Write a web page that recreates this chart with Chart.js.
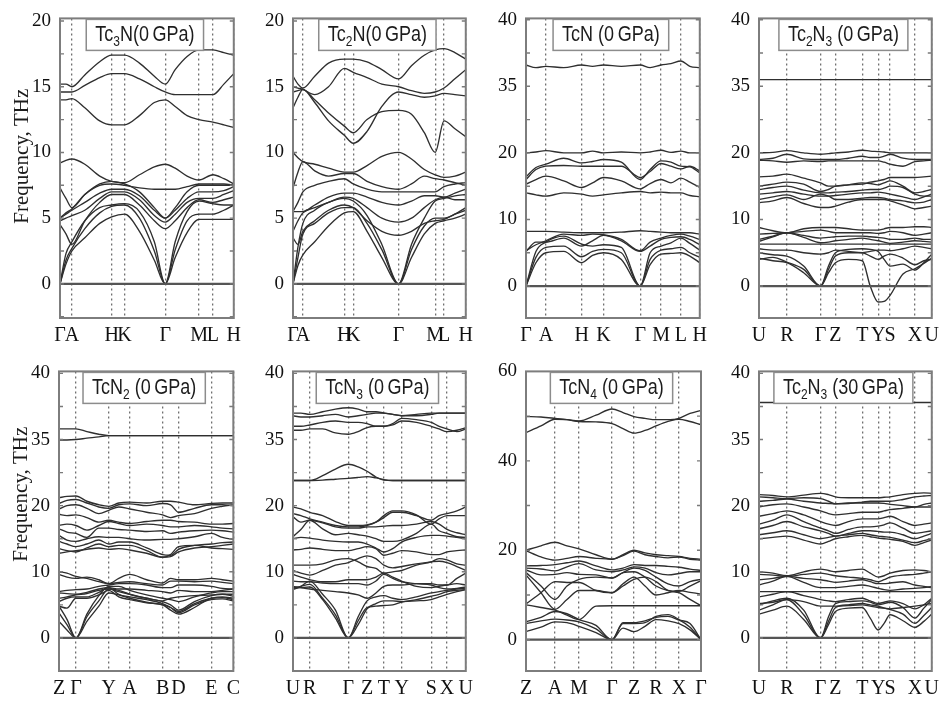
<!DOCTYPE html>
<html>
<head>
<meta charset="utf-8">
<title>Tc-N phonon dispersion</title>
<script src="https://cdn.jsdelivr.net/npm/chart.js@4.4.1/dist/chart.umd.min.js"></script>
<style>
  html, body { margin: 0; padding: 0; background: #fff; }
  #wrap { position: relative; width: 943px; height: 702px; overflow: hidden; }
  #wrap canvas { position: absolute; }
</style>
</head>
<body>
<div id="wrap"></div>
<script>
// ---- tick labels (THz) ----
var freqTicks20 = [0, 5, 10, 15, 20];
var freqTicksBroken = [0, 10, 20, 35, 40];
var freqTicks60 = [0, 20, 40, 60];

// ---- Tc3N (0 GPa) ----
var tc3nLabels = ['Γ', 'A', 'H', 'K', 'Γ', 'M', 'L', 'H'];
var tc3nK = [0, 12, 52, 65, 106, 140, 154, 175];
var tc3nX = [0, 6, 12, 25, 40, 52, 65, 80, 95, 106, 116, 128, 140, 154, 165, 175];
var tc3nBands = [
  [15.2, 15.2, 15.0, 15.9, 16.9, 17.4, 17.4, 16.8, 15.8, 15.2, 16.3, 17.3, 17.8, 17.8, 17.6, 17.4],
  [14.6, 14.6, 14.6, 15.1, 15.7, 16.0, 16.0, 15.6, 15.0, 14.6, 14.4, 14.4, 14.4, 14.4, 15.2, 16.0],
  [14.0, 14.0, 14.1, 13.4, 12.4, 12.1, 12.1, 12.8, 13.8, 14.0, 13.5, 12.8, 12.5, 12.3, 12.1, 11.9],
  [9.2, 9.4, 9.5, 9.1, 8.2, 7.8, 7.7, 8.3, 8.9, 9.1, 8.8, 8.2, 7.9, 8.3, 8.0, 7.6],
  [5.0, 5.4, 5.7, 6.8, 7.5, 7.6, 7.5, 7.3, 7.2, 7.2, 7.2, 7.4, 7.6, 7.6, 7.6, 7.5],
  [7.3, 6.5, 5.8, 6.8, 7.6, 7.8, 7.6, 7.0, 5.8, 5.0, 5.8, 7.0, 7.5, 7.5, 7.5, 7.5],
  [5.0, 5.3, 5.6, 6.2, 6.9, 7.2, 7.2, 6.7, 5.6, 5.0, 5.6, 6.5, 7.0, 7.0, 7.1, 7.4],
  [4.8, 5.0, 5.2, 5.6, 6.5, 7.0, 7.0, 6.4, 5.2, 4.7, 5.3, 6.2, 6.5, 6.5, 6.8, 7.1],
  [4.5, 3.8, 3.0, 4.8, 6.2, 6.8, 6.8, 6.0, 4.8, 4.2, 4.8, 5.8, 6.4, 6.2, 6.4, 6.6],
  [0, 2.3, 3.2, 4.8, 5.8, 6.0, 6.1, 5.5, 3.2, 0, 3.2, 5.5, 6.3, 6.1, 6.0, 6.0],
  [0, 1.8, 2.7, 4.2, 5.4, 5.9, 6.0, 5.0, 2.5, 0, 2.6, 4.8, 5.3, 5.3, 5.6, 6.0],
  [0, 1.5, 2.5, 3.5, 4.6, 5.1, 5.3, 4.0, 1.8, 0, 2.0, 3.9, 4.9, 4.9, 4.9, 4.9]
];

// ---- Tc2N (0 GPa) ----
var tc2nLabels = ['Γ', 'A', 'H', 'K', 'Γ', 'M', 'L', 'H'];
var tc2nK = [0, 10, 52, 61, 107, 144, 153, 175];
var tc2nX = [0, 5, 10, 22, 36, 52, 61, 75, 90, 107, 120, 133, 144, 153, 164, 175];
var tc2nBands = [
  [15.8, 15.2, 14.9, 15.8, 16.8, 17.1, 17.1, 16.9, 16.3, 15.6, 16.6, 17.4, 17.8, 17.9, 17.6, 17.1],
  [15.0, 14.9, 14.8, 14.4, 15.0, 16.4, 16.1, 15.7, 15.2, 15.0, 14.7, 14.5, 14.6, 14.9, 15.6, 16.3],
  [14.6, 14.7, 14.8, 13.8, 12.4, 11.3, 10.7, 11.6, 13.5, 14.6, 14.4, 14.2, 14.3, 14.5, 14.4, 14.3],
  [13.4, 14.2, 14.8, 14.0, 13.0, 12.0, 11.5, 12.5, 13.1, 13.2, 12.9, 11.5, 10.0, 12.4, 11.8, 11.2],
  [10.0, 9.6, 9.3, 9.1, 8.8, 8.5, 8.5, 9.0, 9.7, 10.0, 9.5, 8.7, 8.3, 8.1, 8.2, 8.5],
  [7.3, 8.5, 9.3, 8.6, 8.2, 8.4, 8.4, 7.8, 7.4, 7.2, 7.6, 8.2, 8.0, 7.9, 7.7, 7.5],
  [5.5, 6.2, 7.0, 7.5, 7.8, 8.0, 7.6, 7.2, 7.0, 7.0, 7.0, 7.0, 7.0, 7.4, 7.6, 7.7],
  [5.5, 5.5, 5.5, 6.0, 6.6, 6.9, 6.9, 6.6, 6.2, 6.0, 6.3, 6.7, 6.7, 6.6, 6.9, 7.2],
  [4.0, 4.8, 5.4, 5.8, 6.2, 6.6, 6.5, 5.8, 5.0, 4.7, 5.0, 5.8, 6.4, 6.6, 6.4, 6.4],
  [3.5, 3.0, 4.0, 4.8, 5.6, 6.0, 5.8, 4.8, 4.0, 3.7, 4.0, 4.6, 4.8, 4.9, 5.3, 5.6],
  [0, 1.4, 2.2, 3.2, 4.4, 5.4, 5.5, 4.0, 2.0, 0, 2.0, 3.8, 4.6, 4.8, 5.0, 5.3],
  [0, 2.0, 3.8, 4.6, 5.4, 5.8, 5.8, 4.6, 2.6, 0, 2.6, 4.4, 5.0, 5.0, 5.3, 5.8],
  [0, 2.8, 4.6, 5.6, 6.2, 6.5, 6.3, 5.2, 3.0, 0, 3.0, 5.0, 6.3, 6.5, 6.7, 6.8]
];

// ---- TcN (0 GPa) ----
var tcnLabels = ['Γ', 'A', 'H', 'K', 'Γ', 'M', 'L', 'H'];
var tcnK = [0, 20, 56, 78, 115, 136, 156, 175];
var tcnX = [0, 10, 20, 38, 56, 67, 78, 96, 115, 125, 136, 146, 156, 165, 175];
var tcnBands = [
  [36.6, 36.4, 36.5, 36.4, 36.6, 36.5, 36.6, 36.5, 36.6, 36.4, 36.6, 36.7, 36.9, 36.5, 36.4],
  [20.0, 20.2, 20.5, 20.0, 20.0, 20.4, 20.0, 20.2, 20.0, 20.2, 20.6, 20.1, 20.4, 20.0, 20.0],
  [16.4, 17.8, 18.3, 19.2, 18.5, 18.7, 19.0, 18.6, 16.0, 17.5, 18.8, 18.6, 18.0, 17.9, 17.0],
  [16.0, 17.5, 18.0, 18.1, 18.0, 18.0, 18.0, 18.0, 16.3, 17.2, 18.4, 18.0, 17.6, 18.0, 17.3],
  [15.3, 16.0, 16.5, 15.8, 14.8, 15.5, 16.3, 15.8, 14.6, 15.4, 16.0, 15.5, 16.2, 15.6, 14.8],
  [14.0, 13.7, 13.5, 14.0, 13.8, 13.5, 13.7, 14.0, 14.2, 14.0, 14.1, 14.0, 14.0, 13.6, 13.4],
  [8.2, 8.2, 8.2, 8.1, 8.0, 8.0, 8.0, 8.1, 8.3, 8.2, 8.1, 8.0, 8.0, 8.0, 7.8],
  [5.3, 6.2, 6.8, 7.8, 7.6, 7.8, 7.7, 7.0, 5.3, 6.6, 7.2, 7.6, 7.8, 7.5, 7.0],
  [5.2, 6.6, 6.6, 7.2, 6.0, 6.8, 7.6, 6.8, 5.2, 6.0, 7.0, 7.3, 7.4, 7.0, 6.2],
  [0, 5.2, 6.6, 7.5, 6.3, 6.0, 6.2, 5.8, 0, 5.0, 6.0, 6.5, 7.2, 6.4, 5.4],
  [0, 4.3, 5.8, 6.0, 4.4, 5.2, 5.5, 5.0, 0, 4.0, 5.4, 5.6, 5.8, 5.0, 4.3],
  [0, 3.5, 5.0, 5.2, 3.5, 4.6, 5.0, 4.0, 0, 3.2, 4.8, 4.9, 5.0, 4.5, 3.5]
];

// ---- Tc2N3 (0 GPa) and (30 GPa) share the same path ----
var tc2n3Labels = ['U', 'R', 'Γ', 'Z', 'T', 'Y', 'S', 'X', 'U'];
var tc2n3K = [0, 28, 62, 77, 104, 120, 132, 157, 174];
var tc2n3X = [0, 14, 28, 45, 62, 70, 77, 90, 104, 112, 120, 126, 132, 145, 157, 166, 174];
var tc2n3Bands = [
  [35.5, 35.5, 35.5, 35.5, 35.5, 35.5, 35.5, 35.5, 35.5, 35.5, 35.5, 35.5, 35.5, 35.5, 35.5, 35.5, 35.5],
  [20.0, 20.1, 20.5, 20.0, 19.8, 19.9, 20.0, 20.2, 20.6, 20.4, 20.3, 20.2, 20.0, 20.0, 20.0, 20.0, 20.0],
  [19.0, 19.2, 19.8, 19.1, 19.0, 19.0, 19.0, 19.2, 19.5, 19.3, 19.3, 19.5, 19.8, 19.2, 19.0, 19.0, 19.0],
  [18.9, 18.8, 18.6, 18.8, 18.7, 18.8, 18.8, 18.8, 18.8, 18.8, 18.8, 18.6, 18.3, 18.0, 18.7, 18.8, 18.9],
  [16.4, 16.5, 16.8, 16.2, 15.5, 15.0, 15.0, 15.2, 15.3, 15.6, 15.8, 16.0, 16.3, 16.3, 16.3, 16.4, 16.5],
  [15.0, 15.3, 15.6, 15.3, 14.2, 14.5, 15.0, 15.2, 15.5, 15.4, 15.2, 15.5, 15.8, 15.0, 14.0, 14.2, 14.5],
  [14.5, 14.8, 15.0, 14.4, 14.0, 14.0, 14.1, 14.2, 14.4, 14.5, 14.5, 14.7, 15.0, 14.8, 13.8, 13.5, 13.5],
  [13.8, 14.0, 14.2, 13.8, 13.5, 13.5, 13.6, 13.8, 14.0, 14.0, 14.1, 14.0, 13.8, 13.4, 13.0, 13.4, 13.8],
  [13.0, 13.4, 13.7, 13.0, 13.8, 13.5, 13.0, 13.0, 13.2, 13.3, 13.3, 13.2, 13.0, 12.8, 12.5, 12.6, 13.0],
  [12.5, 12.8, 13.3, 12.4, 11.8, 11.8, 12.0, 12.6, 13.0, 13.0, 13.0, 13.0, 12.8, 12.2, 11.6, 11.8, 12.0],
  [8.8, 8.3, 8.0, 8.6, 8.8, 8.8, 8.8, 8.6, 8.4, 8.4, 8.4, 8.6, 8.8, 8.8, 8.9, 8.9, 8.8],
  [7.8, 7.9, 8.0, 8.2, 8.4, 8.2, 8.0, 8.0, 8.0, 8.0, 7.9, 8.0, 8.2, 8.0, 7.6, 7.8, 8.0],
  [7.0, 7.5, 8.0, 7.6, 7.2, 7.3, 7.4, 7.5, 7.5, 7.4, 7.3, 7.2, 7.0, 7.0, 7.2, 7.0, 7.0],
  [6.7, 7.4, 8.0, 7.3, 6.5, 6.6, 6.8, 7.0, 7.2, 7.0, 6.8, 6.6, 6.4, 6.6, 6.8, 6.7, 6.6],
  [6.3, 6.3, 6.3, 6.3, 6.3, 6.3, 6.3, 6.3, 6.3, 6.3, 6.3, 6.3, 6.3, 6.3, 6.3, 6.3, 6.3],
  [5.6, 5.4, 5.4, 5.0, 4.8, 5.0, 5.4, 5.2, 5.0, 5.2, 5.4, 5.4, 5.3, 5.6, 6.0, 5.8, 5.6],
  [4.0, 4.3, 3.6, 2.5, 0, 2.5, 4.5, 5.0, 5.0, 4.5, 4.0, 4.5, 4.8, 4.2, 3.2, 3.8, 4.0],
  [4.2, 3.8, 3.5, 2.0, 0, 2.0, 3.5, 4.0, 3.8, 0.0, -2.4, -2.3, -1.4, 1.8, 2.6, 3.4, 4.2],
  [5.0, 4.7, 4.5, 3.0, 0, 3.0, 5.0, 5.5, 5.6, 5.5, 5.2, 4.0, 3.0, 3.3, 2.4, 3.5, 4.8]
];
var tc2n3HpBands = [
  [37.8, 37.8, 37.8, 37.8, 37.8, 37.8, 37.8, 37.8, 37.8, 37.8, 37.8, 37.8, 37.8, 37.8, 37.8, 37.8, 37.8],
  [22.5, 22.3, 22.0, 22.4, 22.8, 22.5, 22.0, 21.8, 21.8, 21.8, 21.8, 21.9, 22.0, 22.5, 22.8, 22.9, 22.8],
  [22.0, 21.8, 21.6, 21.8, 21.6, 21.0, 20.4, 20.5, 20.8, 21.0, 21.0, 21.0, 21.0, 21.4, 22.0, 22.2, 22.3],
  [21.0, 21.2, 21.5, 21.0, 20.6, 20.5, 20.4, 20.6, 20.6, 20.6, 20.6, 20.5, 20.3, 20.0, 19.8, 20.3, 20.6],
  [19.8, 20.2, 20.4, 19.8, 19.2, 18.8, 18.6, 18.8, 19.0, 19.0, 19.0, 19.2, 19.4, 19.6, 19.8, 19.8, 19.8],
  [18.4, 18.8, 19.2, 18.6, 17.6, 17.2, 17.0, 17.6, 18.0, 18.0, 18.0, 18.2, 18.4, 17.6, 17.0, 17.2, 17.4],
  [17.2, 17.8, 18.6, 17.6, 16.6, 16.2, 15.8, 16.4, 16.8, 16.8, 16.9, 17.1, 17.4, 16.6, 15.8, 16.0, 16.2],
  [16.5, 17.0, 17.6, 16.8, 16.2, 15.8, 15.4, 15.8, 16.2, 16.2, 16.1, 16.0, 16.0, 15.6, 15.0, 15.4, 15.8],
  [15.6, 15.9, 16.2, 15.6, 15.0, 15.2, 15.4, 15.6, 15.8, 15.6, 15.4, 15.3, 15.2, 14.8, 14.4, 14.7, 15.0],
  [15.0, 15.2, 15.4, 14.8, 14.2, 14.6, 15.0, 15.3, 15.5, 15.3, 15.1, 15.0, 14.9, 14.6, 14.0, 14.4, 14.8],
  [10.0, 9.8, 9.4, 10.0, 10.4, 10.2, 10.0, 10.2, 10.4, 9.8, 9.2, 9.4, 9.8, 10.2, 10.3, 10.2, 10.0],
  [9.6, 9.5, 9.3, 9.6, 9.8, 9.6, 9.4, 9.2, 9.0, 8.8, 8.5, 8.8, 9.2, 9.5, 9.6, 9.8, 10.0],
  [8.8, 9.0, 9.3, 9.0, 8.8, 8.6, 8.4, 8.6, 8.8, 8.5, 8.2, 8.2, 8.3, 8.5, 8.0, 7.8, 7.6],
  [8.0, 8.6, 9.3, 8.4, 7.6, 7.6, 7.6, 7.8, 8.0, 7.8, 7.5, 7.3, 7.2, 7.4, 7.5, 7.6, 7.8],
  [7.0, 7.0, 7.0, 7.0, 7.0, 7.0, 7.0, 7.0, 7.0, 7.0, 7.0, 7.0, 7.0, 7.0, 7.0, 7.0, 7.0],
  [6.2, 6.6, 7.0, 6.4, 5.8, 5.6, 5.5, 5.8, 6.0, 5.6, 5.2, 5.4, 5.6, 5.2, 4.4, 5.0, 6.0],
  [5.2, 5.4, 5.8, 5.5, 4.8, 4.8, 4.8, 4.9, 5.0, 4.8, 4.6, 4.5, 4.4, 4.6, 4.8, 5.0, 5.2],
  [3.6, 4.2, 4.8, 2.8, 0, 2.0, 4.0, 4.5, 4.6, 3.0, 1.2, 2.2, 3.5, 2.6, 1.6, 2.5, 3.6],
  [4.2, 5.0, 5.8, 3.5, 0, 2.5, 4.6, 5.0, 5.2, 5.0, 4.8, 4.5, 4.3, 3.6, 2.2, 3.4, 4.6],
  [5.0, 5.6, 6.0, 4.2, 0, 3.2, 5.2, 5.5, 5.6, 5.4, 5.0, 5.2, 5.4, 4.6, 3.0, 4.5, 5.8]
];

// ---- TcN2 (0 GPa) ----
var tcn2Labels = ['Z', 'Γ', 'Y', 'A', 'B', 'D', 'E', 'C'];
var tcn2K = [0, 17, 50, 71, 104, 120, 153, 175];
var tcn2X = [0, 8, 17, 28, 40, 50, 60, 71, 88, 104, 112, 120, 136, 153, 164, 175];
var tcn2Bands = [
  [35.8, 35.8, 35.8, 35.6, 35.4, 35.3, 35.3, 35.3, 35.3, 35.3, 35.3, 35.3, 35.3, 35.3, 35.3, 35.3],
  [34.9, 34.9, 35.0, 35.1, 35.2, 35.3, 35.3, 35.3, 35.3, 35.3, 35.3, 35.3, 35.3, 35.3, 35.3, 35.3],
  [21.8, 22.1, 22.2, 21.0, 20.2, 19.9, 20.6, 20.8, 20.6, 21.0, 21.0, 20.8, 20.2, 20.5, 20.6, 20.6],
  [20.5, 21.2, 21.4, 20.6, 19.8, 19.6, 20.2, 20.4, 20.0, 20.5, 20.2, 19.0, 19.6, 20.2, 20.2, 20.0],
  [19.5, 20.0, 20.2, 19.6, 18.8, 19.3, 19.8, 19.5, 19.0, 18.6, 18.2, 18.5, 18.8, 19.6, 19.9, 20.2],
  [18.7, 18.5, 18.6, 18.2, 17.5, 17.8, 17.5, 17.3, 17.6, 17.8, 17.8, 17.6, 17.5, 17.2, 17.2, 17.3],
  [17.0, 17.2, 17.0, 16.3, 17.0, 17.6, 17.3, 17.0, 17.2, 17.0, 16.8, 16.8, 17.0, 16.8, 16.6, 16.5],
  [16.5, 16.0, 15.8, 15.2, 16.6, 16.6, 16.4, 16.3, 16.1, 16.2, 15.8, 16.0, 16.2, 16.3, 16.2, 16.0],
  [15.5, 14.8, 14.6, 15.0, 15.3, 15.2, 15.2, 15.0, 14.8, 14.9, 14.9, 15.0, 15.3, 15.8, 15.2, 14.9],
  [14.6, 14.2, 13.8, 14.2, 14.8, 14.2, 14.5, 14.5, 13.6, 12.6, 12.5, 13.4, 14.0, 14.2, 14.4, 14.5],
  [13.5, 13.2, 13.0, 13.6, 14.2, 13.8, 14.0, 14.0, 13.2, 12.2, 12.3, 13.0, 13.6, 13.8, 14.0, 14.2],
  [12.8, 13.0, 13.2, 13.4, 13.6, 13.4, 13.5, 13.3, 12.8, 12.2, 12.6, 13.8, 14.0, 13.6, 13.5, 13.4],
  [10.0, 9.8, 9.3, 9.0, 8.5, 8.2, 9.0, 9.6, 8.8, 8.3, 9.0, 8.8, 8.8, 9.0, 8.8, 8.6],
  [9.6, 9.2, 9.0, 9.2, 8.8, 8.2, 8.4, 8.5, 8.2, 8.0, 8.6, 8.6, 8.5, 8.6, 8.4, 8.2],
  [7.0, 7.2, 7.3, 7.4, 7.8, 8.0, 8.2, 8.2, 8.0, 7.6, 7.6, 8.0, 8.0, 7.8, 7.5, 7.4],
  [6.8, 6.7, 6.6, 6.9, 7.4, 7.6, 7.4, 7.4, 7.2, 7.0, 6.8, 7.2, 7.0, 7.0, 7.2, 7.4],
  [6.0, 6.2, 6.5, 6.7, 7.2, 7.4, 7.0, 6.6, 6.0, 5.6, 6.0, 6.2, 6.4, 6.5, 6.6, 6.6],
  [5.5, 6.0, 6.2, 6.2, 6.9, 7.6, 6.6, 6.2, 5.8, 5.2, 4.6, 4.0, 5.2, 6.0, 6.2, 6.0],
  [4.8, 4.5, 6.0, 6.0, 6.5, 7.2, 6.2, 5.8, 5.3, 5.0, 4.2, 3.6, 4.6, 6.0, 6.1, 5.8],
  [2.5, 1.2, 0, 2.5, 4.8, 6.8, 6.5, 6.0, 5.4, 5.0, 4.6, 3.8, 5.0, 5.8, 5.9, 5.6],
  [3.8, 2.0, 0, 3.2, 5.6, 7.4, 7.2, 6.6, 6.0, 5.5, 5.0, 4.2, 5.5, 6.4, 6.6, 6.3],
  [4.8, 2.8, 0, 3.6, 6.4, 7.8, 7.8, 7.2, 6.5, 6.0, 5.8, 5.5, 6.2, 6.8, 7.0, 7.0]
];

// ---- TcN3 (0 GPa) ----
var tcn3Labels = ['U', 'R', 'Γ', 'Z', 'T', 'Y', 'S', 'X', 'U'];
var tcn3K = [0, 17, 56, 75, 92, 110, 140, 156, 175];
var tcn3X = [0, 8, 17, 30, 43, 56, 66, 75, 84, 92, 101, 110, 125, 140, 148, 156, 166, 175];
var tcn3Bands = [
  [37.0, 37.0, 36.9, 37.1, 37.3, 37.4, 37.3, 37.1, 37.1, 37.0, 36.9, 36.8, 36.9, 37.0, 37.0, 37.0, 37.0, 37.0],
  [36.8, 36.7, 36.7, 36.8, 36.9, 36.7, 36.8, 36.9, 37.0, 37.0, 36.9, 36.8, 36.8, 36.9, 37.0, 37.0, 37.0, 37.0],
  [36.0, 36.0, 36.1, 36.3, 36.4, 36.3, 36.3, 36.2, 36.0, 36.0, 36.2, 36.6, 36.5, 36.3, 36.0, 35.8, 35.6, 35.8],
  [35.7, 35.7, 35.8, 35.8, 35.5, 35.4, 35.6, 35.9, 36.0, 36.0, 36.1, 36.4, 36.3, 36.0, 35.8, 35.6, 35.7, 35.9],
  [25.7, 25.7, 25.7, 26.8, 28.3, 29.4, 28.8, 27.8, 26.5, 25.8, 25.7, 25.7, 25.7, 25.7, 25.7, 25.7, 25.7, 25.7],
  [25.7, 25.7, 25.7, 25.8, 26.0, 26.2, 26.4, 26.6, 26.3, 25.9, 25.7, 25.7, 25.7, 25.7, 25.7, 25.7, 25.7, 25.7],
  [19.8, 19.5, 19.0, 18.5, 17.6, 17.0, 17.0, 17.1, 17.5, 18.2, 19.0, 19.0, 18.5, 17.8, 18.5, 18.8, 19.2, 19.8],
  [18.8, 18.5, 18.0, 17.5, 17.0, 16.8, 16.8, 17.0, 17.5, 18.5, 19.2, 19.2, 18.6, 17.2, 18.0, 18.5, 18.5, 18.5],
  [18.3, 17.5, 17.8, 17.4, 16.8, 16.6, 16.6, 16.8, 16.8, 16.9, 17.0, 17.0, 17.2, 17.6, 17.2, 16.4, 15.9, 15.6],
  [15.3, 16.4, 17.8, 16.5, 15.6, 15.8, 15.6, 15.4, 15.0, 14.6, 14.6, 14.8, 15.8, 17.2, 16.2, 15.8, 15.3, 15.2],
  [15.0, 15.2, 15.1, 14.8, 14.6, 14.5, 14.5, 14.2, 13.6, 13.0, 13.5, 14.5, 15.2, 15.5, 15.5, 15.4, 15.2, 15.0],
  [13.3, 13.4, 13.6, 13.4, 13.2, 13.2, 13.5, 13.8, 13.5, 12.5, 12.8, 13.2, 13.0, 12.6, 12.6, 13.0, 13.2, 13.3],
  [11.0, 11.0, 11.0, 11.2, 11.8, 12.0, 11.5, 10.8, 10.5, 9.8, 10.0, 10.2, 11.0, 11.5, 12.0, 11.8, 11.2, 11.0],
  [10.2, 9.8, 9.5, 10.2, 11.0, 11.4, 12.0, 12.4, 12.0, 11.0, 10.6, 10.8, 11.2, 11.5, 11.6, 11.4, 10.8, 10.2],
  [9.6, 9.2, 8.8, 8.5, 8.5, 8.8, 8.8, 8.8, 9.2, 9.8, 9.2, 8.6, 7.8, 7.6, 7.8, 8.0, 8.2, 8.0],
  [8.6, 8.5, 8.5, 8.3, 8.2, 8.2, 8.2, 8.0, 8.6, 9.6, 9.0, 8.5, 8.2, 8.0, 7.6, 7.4, 7.5, 7.7],
  [7.8, 7.6, 7.4, 7.2, 7.0, 6.8, 6.5, 6.0, 6.8, 7.8, 8.0, 8.0, 8.2, 8.2, 8.0, 8.0, 9.0, 9.8],
  [7.5, 7.6, 7.7, 5.8, 3.0, 0, 3.2, 5.6, 6.2, 6.4, 6.0, 5.8, 6.2, 6.8, 7.0, 7.2, 7.4, 7.5],
  [7.6, 7.8, 8.1, 6.0, 3.5, 0, 2.6, 4.6, 4.8, 4.9, 5.0, 5.4, 5.8, 6.3, 6.6, 7.0, 7.2, 7.3],
  [7.3, 7.8, 8.6, 6.6, 4.2, 0, 2.0, 4.4, 5.2, 5.6, 5.6, 5.5, 5.6, 5.8, 6.2, 6.6, 7.0, 7.3]
];

// ---- TcN4 (0 GPa) ----
var tcn4Labels = ['Z', 'A', 'M', 'Γ', 'Z', 'R', 'X', 'Γ'];
var tcn4K = [0, 29, 53, 86, 108, 130, 153, 175];
var tcn4X = [0, 15, 29, 41, 53, 70, 86, 97, 108, 119, 130, 142, 153, 164, 175];
var tcn4Bands = [
  [49.9, 49.8, 49.5, 49.2, 48.9, 50.2, 51.6, 50.8, 49.9, 49.5, 49.2, 49.2, 49.3, 48.8, 48.1],
  [46.3, 47.8, 49.3, 49.2, 48.8, 48.7, 48.3, 47.2, 46.2, 46.8, 47.8, 48.8, 49.5, 50.6, 51.3],
  [20.0, 21.0, 21.8, 21.0, 20.3, 19.0, 18.0, 19.0, 20.0, 19.4, 19.0, 18.8, 18.6, 18.2, 18.0],
  [19.9, 18.5, 17.8, 18.2, 18.6, 18.2, 18.0, 18.8, 19.8, 19.0, 18.6, 18.3, 18.5, 18.0, 17.8],
  [16.5, 16.6, 16.8, 17.2, 17.6, 16.5, 15.6, 16.0, 16.8, 16.6, 16.6, 16.4, 16.2, 15.8, 15.5],
  [16.0, 15.8, 15.4, 16.3, 17.0, 15.6, 15.2, 15.6, 16.3, 16.0, 15.0, 14.5, 14.8, 15.2, 15.2],
  [15.6, 14.5, 14.6, 15.0, 14.6, 14.5, 13.8, 15.0, 16.0, 15.5, 14.0, 12.5, 12.0, 13.0, 13.5],
  [15.0, 12.0, 9.0, 12.0, 13.5, 14.0, 13.8, 15.0, 15.2, 14.0, 12.0, 11.0, 10.8, 12.0, 13.2],
  [14.5, 10.5, 6.8, 9.0, 11.0, 11.0, 10.5, 12.5, 14.0, 12.0, 10.0, 10.5, 11.0, 10.6, 10.2],
  [8.0, 10.5, 13.0, 12.8, 12.8, 11.0, 10.5, 12.0, 13.5, 14.0, 13.0, 11.0, 10.5, 9.0, 7.6],
  [7.8, 7.2, 6.6, 5.5, 4.5, 7.5, 7.6, 7.6, 7.6, 7.6, 7.6, 7.6, 7.6, 7.6, 7.6],
  [4.0, 5.0, 6.3, 5.8, 4.5, 3.2, 0, 3.8, 3.8, 4.2, 5.0, 5.2, 4.4, 3.6, 0],
  [3.6, 4.2, 4.6, 4.4, 4.0, 2.4, 0, 3.6, 3.6, 3.8, 5.2, 5.6, 4.5, 2.8, 0],
  [1.8, 2.8, 4.0, 3.8, 3.0, 1.6, 0, 2.6, 1.8, 3.0, 4.5, 4.2, 3.6, 2.2, 0]
];

// ---- panels ----
var panels = [
  { title: 'Tc_3N(0\u2009GPa)', labels: tc3nLabels, kpts: tc3nK, xs: tc3nX, bands: tc3nBands, ticks: freqTicks20, broken: false, yMin: -2.6, yMax: 20.2, yTitle: true },
  { title: 'Tc_2N(0\u2009GPa)', labels: tc2nLabels, kpts: tc2nK, xs: tc2nX, bands: tc2nBands, ticks: freqTicks20, broken: false, yMin: -2.6, yMax: 20.2 },
  { title: 'TcN (0\u2009GPa)', labels: tcnLabels, kpts: tcnK, xs: tcnX, bands: tcnBands, ticks: freqTicksBroken, broken: true, yMin: -0.48, yMax: 4.02 },
  { title: 'Tc_2N_3 (0\u2009GPa)', labels: tc2n3Labels, kpts: tc2n3K, xs: tc2n3X, bands: tc2n3Bands, ticks: freqTicksBroken, broken: true, yMin: -0.48, yMax: 4.02 },
  { title: 'TcN_2 (0\u2009GPa)', labels: tcn2Labels, kpts: tcn2K, xs: tcn2X, bands: tcn2Bands, ticks: freqTicksBroken, broken: true, yMin: -0.5, yMax: 4.03, yTitle: true },
  { title: 'TcN_3 (0\u2009GPa)', labels: tcn3Labels, kpts: tcn3K, xs: tcn3X, bands: tcn3Bands, ticks: freqTicksBroken, broken: true, yMin: -0.5, yMax: 4.03 },
  { title: 'TcN_4 (0\u2009GPa)', labels: tcn4Labels, kpts: tcn4K, xs: tcn4X, bands: tcn4Bands, ticks: freqTicks60, broken: false, yMin: -7, yMax: 60 },
  { title: 'Tc_2N_3 (30\u2009GPa)', labels: tc2n3Labels, kpts: tc2n3K, xs: tc2n3X, bands: tc2n3HpBands, ticks: freqTicksBroken, broken: true, yMin: -0.5, yMax: 4.03 }
];

// plot frames on the page (left, top, right, bottom) and y-title shift
var frames = [
  { l: 60, t: 10, r: 235, b: 318, shift: -12 },
  { l: 293, t: 10, r: 467, b: 318 },
  { l: 526, t: 10, r: 701, b: 318 },
  { l: 759, t: 10, r: 933, b: 318 },
  { l: 59, t: 363, r: 234, b: 671, shift: -27 },
  { l: 293, t: 363, r: 467, b: 671 },
  { l: 526, t: 363, r: 701, b: 671 },
  { l: 759, t: 363, r: 933, b: 671 }
];

// axis break: 0-20 and 20-35 and 35-40 each get their own stretch
function brokenY(f) {
  if (f <= 20) return f / 10;
  if (f <= 35) return 2 + (f - 20) / 15;
  return 3 + (f - 35) / 5;
}

var serif = '"Liberation Serif", "Times New Roman", serif';
var sans = '"Liberation Sans", Arial, sans-serif';

function decorPlugin(p, fr) {
  return {
    id: 'decor',
    afterDatasetsDraw: function (chart) {
      var ctx = chart.ctx, a = chart.chartArea, ys = chart.scales.y;
      var tv = p.tickVals;
      ctx.save();

      // small inner tick marks (major + half steps)
      var marks = [];
      for (var i = 0; i < tv.length; i++) {
        marks.push(tv[i]);
        if (i < tv.length - 1) marks.push((tv[i] + tv[i + 1]) / 2);
      }
      marks.push(tv[0] - (tv[1] - tv[0]) / 2);
      ctx.strokeStyle = '#7a7a7a';
      ctx.lineWidth = 1.4;
      marks.forEach(function (m) {
        var y = ys.getPixelForValue(m);
        if (y < a.top + 1 || y > a.bottom - 1) return;
        ctx.beginPath();
        ctx.moveTo(a.left, y); ctx.lineTo(a.left + 4, y);
        ctx.moveTo(a.right, y); ctx.lineTo(a.right - 4, y);
        ctx.stroke();
      });

      // frame
      ctx.strokeStyle = '#7d7d7d';
      ctx.lineWidth = 2;
      ctx.strokeRect(a.left, a.top, a.right - a.left, a.bottom - a.top);

      // title box with subscripts
      var parts = p.title.split(/_(\d)/);
      var big = '18px ' + sans, small = '12px ' + sans;
      var w = 0;
      parts.forEach(function (s, k) { ctx.font = k % 2 ? small : big; w += ctx.measureText(s).width; });
      var bw = w + 18, bh = 31;
      var bx = (a.left + a.right) / 2 - bw / 2 - 2, by = a.top + 1;
      ctx.fillStyle = '#fff';
      ctx.fillRect(bx, by, bw, bh);
      ctx.strokeStyle = '#8c8c8c';
      ctx.lineWidth = 1.5;
      ctx.strokeRect(bx, by, bw, bh);
      ctx.fillStyle = '#1c1c1c';
      ctx.textAlign = 'left';
      ctx.textBaseline = 'alphabetic';
      var tx = bx + 9, base = by + 22;
      parts.forEach(function (s, k) {
        ctx.font = k % 2 ? small : big;
        ctx.save();
        ctx.translate(tx, base + (k % 2 ? 5 : 0));
        ctx.scale(1, 1.18);
        ctx.fillText(s, 0, 0);
        ctx.restore();
        tx += ctx.measureText(s).width;
      });

      // y axis title
      if (p.yTitle) {
        ctx.save();
        ctx.translate(a.left - 38, (a.top + a.bottom) / 2 + (fr.shift || 0));
        ctx.rotate(-Math.PI / 2);
        ctx.font = '21px ' + serif;
        ctx.fillStyle = '#1c1c1c';
        ctx.textAlign = 'center';
        ctx.textBaseline = 'middle';
        ctx.fillText('Frequency, THz', 0, 0);
        ctx.restore();
      }
      ctx.restore();
    }
  };
}

var wrap = document.getElementById('wrap');

panels.forEach(function (p, idx) {
  var fr = frames[idx];
  var map = p.broken ? brokenY : function (v) { return v; };
  p.tickVals = p.ticks.map(map);
  var axisW = p.yTitle ? 60 : 46;
  var padTop = 12, padRight = 12, axisH = 34;
  var W = axisW + (fr.r - fr.l) + padRight;
  var H = padTop + (fr.b - fr.t) + axisH;

  var c = document.createElement('canvas');
  c.width = W; c.height = H;
  c.style.left = (fr.l - axisW) + 'px';
  c.style.top = (fr.t - padTop) + 'px';
  c.style.width = W + 'px';
  c.style.height = H + 'px';
  wrap.appendChild(c);

  var kLast = p.kpts[p.kpts.length - 1];
  var datasets = [{
    data: [{ x: p.kpts[0], y: 0 }, { x: kLast, y: 0 }],
    borderColor: '#555', borderWidth: 2.2, pointRadius: 0
  }];
  p.bands.forEach(function (b) {
    datasets.push({
      data: b.map(function (v, i) { return { x: p.xs[i], y: map(v) }; }),
      borderColor: '#2f2f2f', borderWidth: 1.35, pointRadius: 0,
      cubicInterpolationMode: 'monotone', fill: false
    });
  });

  new Chart(c, {
    type: 'line',
    data: { datasets: datasets },
    options: {
      responsive: false,
      animation: false,
      devicePixelRatio: 1,
      layout: { padding: { top: padTop, right: padRight, left: 0, bottom: 0 } },
      plugins: { legend: { display: false }, tooltip: { enabled: false } },
      scales: {
        x: {
          type: 'linear', min: p.kpts[0], max: kLast,
          afterBuildTicks: function (s) { s.ticks = p.kpts.map(function (v) { return { value: v }; }); },
          afterFit: function (s) { s.height = axisH; },
          ticks: {
            autoSkip: false, maxRotation: 0, padding: 6, color: '#111',
            font: { family: serif, size: 20 },
            callback: function (v, i) { return p.labels[i]; }
          },
          grid: { color: '#6f6f6f', lineWidth: 1.3, drawTicks: false },
          border: { display: false, dash: [2, 3] }
        },
        y: {
          type: 'linear', min: p.yMin, max: p.yMax,
          afterBuildTicks: function (s) { s.ticks = p.tickVals.map(function (v) { return { value: v }; }); },
          afterFit: function (s) { s.width = axisW; },
          ticks: {
            padding: 9, color: '#111',
            font: { family: serif, size: 19 },
            callback: function (v, i) { return String(p.ticks[i]); }
          },
          grid: { drawOnChartArea: false, drawTicks: false },
          border: { display: false }
        }
      }
    },
    plugins: [decorPlugin(p, fr)]
  });
});
</script>
</body>
</html>
